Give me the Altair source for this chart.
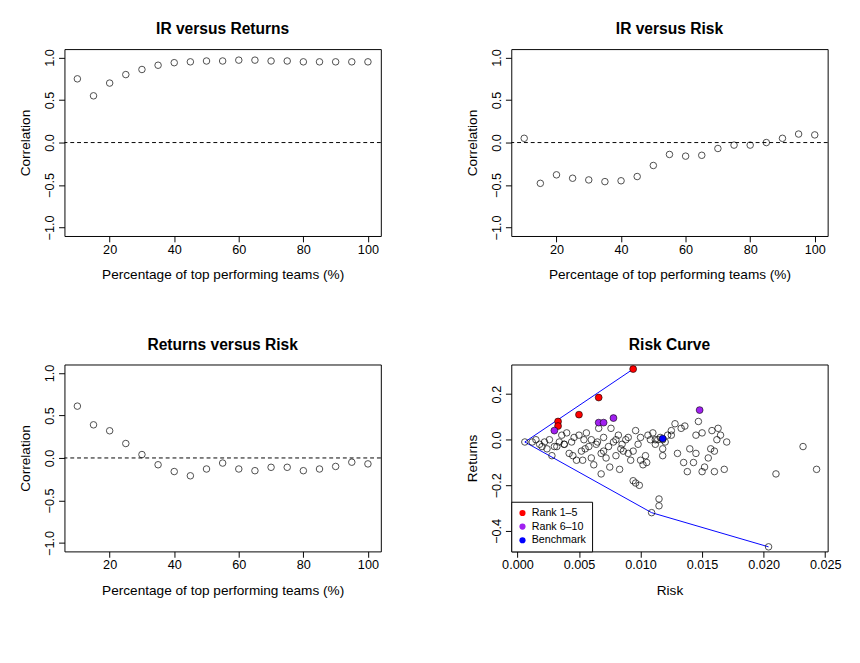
import pandas as pd
import altair as alt

# percentage of top performing teams
pct = list(range(10, 101, 5))
ir_returns = [0.75, 0.55, 0.70, 0.80, 0.86, 0.91, 0.94, 0.95, 0.96, 0.96,
              0.97, 0.97, 0.96, 0.96, 0.95, 0.95, 0.95, 0.95, 0.95]
ir_risk = [0.05, -0.48, -0.38, -0.42, -0.44, -0.46, -0.45, -0.40, -0.27, -0.14,
           -0.16, -0.15, -0.07, -0.03, -0.03, 0.00, 0.05, 0.10, 0.09]
returns_risk = [0.61, 0.39, 0.32, 0.17, 0.04, -0.08, -0.16, -0.21, -0.13, -0.06,
                -0.13, -0.15, -0.11, -0.11, -0.15, -0.13, -0.10, -0.05, -0.07]

# risk curve: all teams
risk = [0.0006, 0.0012, 0.0015, 0.0018, 0.0020, 0.0022, 0.0024, 0.0026, 0.0028, 0.0030,
        0.0032, 0.0034, 0.0036, 0.0038, 0.0040, 0.0042, 0.0044, 0.0046, 0.0048, 0.0050,
        0.0052, 0.0054, 0.0056, 0.0058, 0.0060, 0.0062, 0.0064, 0.0066, 0.0068, 0.0070,
        0.0072, 0.0074, 0.0076, 0.0078, 0.0080, 0.0082, 0.0084, 0.0086, 0.0088, 0.0090,
        0.0092, 0.0094, 0.0096, 0.0098, 0.0100, 0.0102, 0.0104, 0.0106, 0.0108, 0.0110,
        0.0112, 0.0114, 0.0116, 0.0118, 0.0120, 0.0122, 0.0125, 0.0128, 0.0130, 0.0133,
        0.0136, 0.0140, 0.0143, 0.0145, 0.0147, 0.0150, 0.0152, 0.0155, 0.0158, 0.0160,
        0.0162, 0.0165, 0.0168, 0.0170, 0.0038, 0.0045, 0.0055, 0.0060, 0.0065, 0.0070,
        0.0075, 0.0080, 0.0085, 0.0090, 0.0100, 0.0105, 0.0112, 0.0118, 0.0125, 0.0135,
        0.0145, 0.0150, 0.0157, 0.0163, 0.0053, 0.0068, 0.0083, 0.0094, 0.0096, 0.0099,
        0.0115, 0.0115, 0.0109, 0.0204, 0.0210, 0.0232, 0.0243, 0.0138, 0.0160, 0.0118]
returns = [-0.01, -0.01, 0.00, -0.02, -0.03, -0.01, -0.04, 0.00, -0.07, -0.03,
           -0.03, -0.01, 0.02, -0.02, 0.03, -0.06, -0.01, 0.01, -0.09, 0.02,
           -0.05, 0.00, 0.03, -0.03, 0.00, -0.11, -0.02, 0.05, -0.06, 0.01,
           -0.08, -0.03, 0.05, -0.01, 0.00, 0.02, -0.04, -0.05, 0.00, 0.01,
           -0.09, -0.05, 0.04, -0.02, 0.01, -0.11, -0.07, 0.02, 0.00, 0.03,
           -0.02, 0.00, 0.01, -0.04, -0.01, 0.02, 0.04, 0.07, -0.06, 0.05,
           0.06, -0.04, -0.10, 0.02, 0.08, 0.03, -0.12, -0.08, 0.04, -0.05,
           0.00, 0.02, -0.13, -0.01, -0.02, -0.07, -0.04, -0.08, -0.01, -0.05,
           -0.12, -0.07, -0.02, -0.06, -0.09, -0.10, 0.00, -0.07, 0.02, -0.10,
           -0.06, -0.14, -0.04, 0.05, -0.09, -0.15, -0.13, -0.18, -0.19, -0.20,
           -0.26, -0.29, -0.32, -0.47, -0.15, -0.03, -0.13, -0.14, -0.14, 0.00]

# highlighted teams
hl_risk = [0.0094, 0.0066, 0.0050, 0.0033, 0.0033,
           0.0148, 0.0078, 0.0066, 0.0070, 0.0030, 0.0118]
hl_returns = [0.31, 0.185, 0.11, 0.08, 0.06,
              0.13, 0.095, 0.075, 0.075, 0.04, 0.005]
hl_group = ["Rank 1\u20135"] * 5 + ["Rank 6\u201310"] * 5 + ["Benchmark"]

# efficient frontier lines
up_risk = [0.0006, 0.0094]
up_returns = [-0.01, 0.31]
low_risk = [0.0006, 0.0109, 0.0204]
low_returns = [-0.01, -0.32, -0.47]

W, H = 325, 192
FONT = "Liberation Sans"
xlab = "Percentage of top performing teams (%)"


def corr_panel(vals, title):
    df = pd.DataFrame({"pct": pct, "corr": vals})
    pts = alt.Chart(df).mark_point(shape="circle", color="black", size=45, strokeWidth=1).encode(
        x=alt.X("pct:Q", title=xlab, scale=alt.Scale(domain=[6, 104], nice=False),
                axis=alt.Axis(values=[20, 40, 60, 80, 100])),
        y=alt.Y("corr:Q", title="Correlation", scale=alt.Scale(domain=[-1.1, 1.1], nice=False),
                axis=alt.Axis(values=[-1, -0.5, 0, 0.5, 1], format=".1f", labelAngle=-90,
                              labelAlign="center", labelBaseline="bottom")),
    )
    zero = alt.Chart(pd.DataFrame({"y": [0]})).mark_rule(strokeDash=[4, 3], color="black").encode(y="y:Q")
    return (zero + pts).properties(width=W, height=H, title=title)


p1 = corr_panel(ir_returns, "IR versus Returns")
p2 = corr_panel(ir_risk, "IR versus Risk")
p3 = corr_panel(returns_risk, "Returns versus Risk")

all_df = pd.DataFrame({"risk": risk, "ret": returns})
hl_df = pd.DataFrame({"risk": hl_risk, "ret": hl_returns, "group": hl_group})
up_df = pd.DataFrame({"risk": up_risk, "ret": up_returns})
low_df = pd.DataFrame({"risk": low_risk, "ret": low_returns})

xs = alt.X("risk:Q", title="Risk", scale=alt.Scale(domain=[-0.0005, 0.0252], nice=False),
           axis=alt.Axis(values=[0, 0.005, 0.01, 0.015, 0.02, 0.025], format=".3f"))
ys = alt.Y("ret:Q", title="Returns", scale=alt.Scale(domain=[-0.49, 0.33], nice=False),
           axis=alt.Axis(values=[-0.4, -0.2, 0, 0.2], format=".1f", labelAngle=-90,
                         labelAlign="center", labelBaseline="bottom"))

lines = alt.layer(
    alt.Chart(up_df).mark_line(color="blue", strokeWidth=1).encode(x=xs, y=ys),
    alt.Chart(low_df).mark_line(color="blue", strokeWidth=1).encode(x=xs, y=ys),
)
cloud = alt.Chart(all_df).mark_point(shape="circle", color="black", size=45, strokeWidth=1).encode(x=xs, y=ys)
hl = alt.Chart(hl_df).mark_point(shape="circle", filled=True, size=50, opacity=1,
                                 stroke="black", strokeWidth=0.6).encode(
    x=xs, y=ys,
    color=alt.Color("group:N", title=None,
                    scale=alt.Scale(domain=["Rank 1\u20135", "Rank 6\u201310", "Benchmark"],
                                    range=["red", "#a020f0", "blue"]),
                    legend=alt.Legend(orient="bottom-left", fillColor="white", strokeColor="black",
                                      padding=6, offset=0, symbolSize=40, labelFontSize=11,
                                      labelFont=FONT, rowPadding=2, symbolStrokeWidth=0)),
)
p4 = (lines + cloud + hl).properties(width=W, height=H, title="Risk Curve")

chart = alt.vconcat(
    alt.hconcat(p1, p2, spacing=85).resolve_legend(color="independent"),
    alt.hconcat(p3, p4, spacing=85).resolve_legend(color="independent"),
    spacing=55,
).resolve_legend(color="independent").properties(
    background="white", padding={"left": 10, "top": 5, "right": 10, "bottom": 5}
).configure_view(stroke="black", strokeWidth=1).configure_axis(
    grid=False, domain=False, tickColor="black", labelColor="black", titleColor="black",
    labelFont=FONT, titleFont=FONT, labelFontSize=13, titleFontSize=14, tickSize=6,
    titleFontWeight="normal", titlePadding=12,
).configure_title(font=FONT, fontSize=16, fontWeight="bold", anchor="middle", offset=12)

chart.save("out.html", embed_options={"renderer": "svg", "actions": False})
